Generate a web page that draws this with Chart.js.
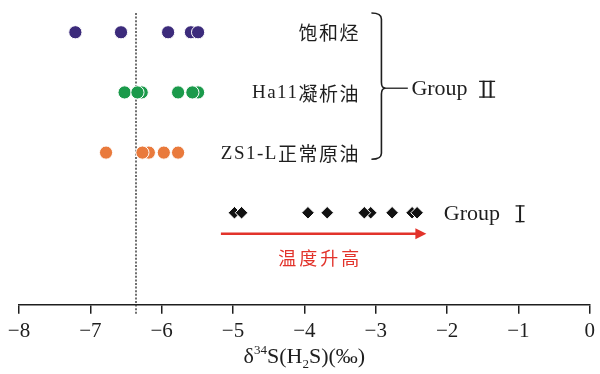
<!DOCTYPE html>
<html><head><meta charset="utf-8">
<script src="https://cdn.jsdelivr.net/npm/chart.js@4/dist/chart.umd.min.js"></script>
<style>html,body{margin:0;padding:0;background:#fff}#wrap{width:600px;height:374px;position:relative}</style>
</head><body><div id="wrap"><canvas id="c"></canvas></div>
<script>
// δ34S of H2S, per sample group
const xTicks = [-8, -7, -6, -5, -4, -3, -2, -1, 0];
const rowNames = ['饱和烃', 'Ha11凝析油', 'ZS1-L正常原油'];
const rowLevels = [4, 3, 2, 1];
const saturates = [-7.21, -6.57, -5.91, -5.59, -5.49];
const ha11Condensate = [-6.52, -6.28, -6.34, -5.77, -5.49, -5.57];
const zs1Crude = [-6.78, -6.18, -6.27, -5.97, -5.77];
const groupOne = [-4.98, -4.88, -3.95, -3.68, -3.07, -3.16, -2.77, -2.49, -2.42];
const refValue = -6.36;
const warmingArrow = [-5.17, -2.29];

const LATIN = '"Liberation Serif", "Times New Roman", serif';
const CJK = '"Noto Sans CJK SC", sans-serif';
const INK = '#1e1e1e';

const pts = (arr, lvl) => arr.map(v => ({x: v, y: lvl}));

const dotStyle = c => ({
  pointStyle: 'circle', pointRadius: 6.6, pointHoverRadius: 6.6,
  pointBackgroundColor: c, pointBorderColor: '#ffffff', pointBorderWidth: 1,
  showLine: false
});

// "Group" followed by a serif roman numeral drawn as bars
function groupLabel(ctx, left, mid, bars) {
  ctx.font = '22px ' + LATIN;
  ctx.textAlign = 'left';
  ctx.textBaseline = 'middle';
  ctx.fillText('Group', left, mid + 1);
  const start = left + ctx.measureText('Group').width + (bars === 1 ? 16 : 12);
  const h = 17, top = mid - h / 2 + 1;
  const gap = 7;
  for (let i = 0; i < bars; i++) {
    const cx = start + 4 + i * gap;
    ctx.fillRect(cx - 1, top, 2, h);
  }
  // serifs across the bars
  const w = (bars - 1) * gap + 9;
  ctx.fillRect(start - 0.5, top, w, 1.3);
  ctx.fillRect(start - 0.5, top + h - 1.3, w, 1.3);
}

const annotations = {
  id: 'annotations',
  afterDatasetsDraw(chart) {
    const {ctx, scales: {x, y}, chartArea} = chart;
    ctx.save();
    // row labels, right aligned
    ctx.fillStyle = INK;
    ctx.textBaseline = 'middle';
    const labelRight = x.getPixelForValue(-3.25) + 2;
    rowNames.forEach((name, i) => {
      const yy = y.getPixelForValue(rowLevels[i]);
      const runs = name.match(/[\u4e00-\u9fff]+|[^\u4e00-\u9fff]+/g);
      ctx.letterSpacing = '1.5px';
      const fonts = runs.map(r => /[\u4e00-\u9fff]/.test(r) ? '19px ' + CJK : '19px ' + LATIN);
      const widths = runs.map((r, k) => { ctx.font = fonts[k]; return ctx.measureText(r).width; });
      const total = widths.reduce((a, b) => a + b, 0);
      let cx = labelRight - total;
      ctx.textAlign = 'left';
      runs.forEach((r, k) => { ctx.font = fonts[k]; ctx.fillText(r, cx, yy + 1); cx += widths[k]; });
    });
    ctx.letterSpacing = '0px';

    // bracket grouping the three rows
    const bx = x.getPixelForValue(-2.92);
    const bTop = y.getPixelForValue(4.32);
    const bBot = y.getPixelForValue(1.89);
    const bMid = y.getPixelForValue(3.07);
    ctx.strokeStyle = INK;
    ctx.lineWidth = 1.6;
    ctx.beginPath();
    ctx.moveTo(bx - 10, bTop);
    ctx.quadraticCurveTo(bx, bTop, bx, bTop + 6);
    ctx.lineTo(bx, bMid - 6);
    ctx.quadraticCurveTo(bx, bMid, bx + 4, bMid);
    ctx.moveTo(bx + 4, bMid);
    ctx.quadraticCurveTo(bx, bMid, bx, bMid + 6);
    ctx.lineTo(bx, bBot - 6);
    ctx.quadraticCurveTo(bx, bBot, bx - 10, bBot);
    ctx.stroke();
    ctx.lineWidth = 1.3;
    ctx.beginPath();
    ctx.moveTo(bx + 2, bMid);
    ctx.lineTo(x.getPixelForValue(-2.55), bMid);
    ctx.stroke();

    groupLabel(ctx, x.getPixelForValue(-2.50), bMid, 2);
    groupLabel(ctx, x.getPixelForValue(-2.045), y.getPixelForValue(1), 1);

    // warming-direction arrow
    const ay = y.getPixelForValue(0.65);
    const ax0 = x.getPixelForValue(warmingArrow[0]);
    const ax1 = x.getPixelForValue(warmingArrow[1]);
    ctx.strokeStyle = '#e2332b';
    ctx.fillStyle = '#e2332b';
    ctx.lineWidth = 2.4;
    ctx.beginPath();
    ctx.moveTo(ax0, ay);
    ctx.lineTo(ax1 - 9, ay);
    ctx.stroke();
    ctx.beginPath();
    ctx.moveTo(ax1, ay);
    ctx.lineTo(ax1 - 11, ay - 5.5);
    ctx.lineTo(ax1 - 11, ay + 5.5);
    ctx.closePath();
    ctx.fill();
    ctx.font = '18px ' + CJK;
    ctx.letterSpacing = '3px';
    ctx.textAlign = 'center';
    ctx.textBaseline = 'middle';
    ctx.fillText('温度升高', x.getPixelForValue(-3.80) + 1.5, y.getPixelForValue(0.25));
    ctx.letterSpacing = '0px';

    // axis title with super/subscripts
    const parts = [
      {t: 'δ', s: 22, dy: 0},
      {t: '34', s: 13, dy: -9},
      {t: 'S(H', s: 22, dy: 0},
      {t: '2', s: 13, dy: 5},
      {t: 'S)(‰)', s: 22, dy: 0}
    ];
    ctx.fillStyle = INK;
    ctx.textAlign = 'left';
    ctx.textBaseline = 'alphabetic';
    let tw = 0;
    parts.forEach(p => { ctx.font = p.s + 'px ' + LATIN; p.w = ctx.measureText(p.t).width; tw += p.w; });
    let tx = (chartArea.left + chartArea.right) / 2 - tw / 2;
    const base = chartArea.bottom + 58;
    parts.forEach(p => { ctx.font = p.s + 'px ' + LATIN; ctx.fillText(p.t, tx, base + p.dy); tx += p.w; });
    ctx.restore();
  }
};

new Chart(document.getElementById('c'), {
  type: 'scatter',
  data: {
    datasets: [
      {label: rowNames[0], data: pts(saturates, rowLevels[0]), ...dotStyle('#3c2b7b'), order: 1},
      {label: rowNames[1], data: pts(ha11Condensate, rowLevels[1]), ...dotStyle('#1b9a4b'), order: 1},
      {label: rowNames[2], data: pts(zs1Crude, rowLevels[2]), ...dotStyle('#e97a3c'), order: 1},
      {label: 'Group I', data: pts(groupOne, rowLevels[3]), pointStyle: 'rectRot',
       pointRadius: 6.3, pointHoverRadius: 6.3, pointBackgroundColor: '#111111',
       pointBorderColor: '#ffffff', pointBorderWidth: 1, showLine: false, order: 1},
      {label: 'ref', data: [{x: refValue, y: 4.32}, {x: refValue, y: -0.7}],
       showLine: true, borderColor: '#333333', borderWidth: 1.4, borderDash: [2, 1.6],
       pointRadius: 0, clip: false, order: 5}
    ]
  },
  options: {
    responsive: true,
    maintainAspectRatio: false,
    animation: false,
    events: [],
    layout: {padding: {left: 19, right: 7, top: 2, bottom: 25}},
    plugins: {legend: {display: false}, tooltip: {enabled: false}},
    scales: {
      x: {
        type: 'linear', min: xTicks[0], max: xTicks[xTicks.length - 1],
        afterBuildTicks: s => { s.ticks = xTicks.map(v => ({value: v})); },
        ticks: {
          color: INK, font: {family: LATIN, size: 21}, padding: 5,
          callback: v => (v < 0 ? '\u2212' + Math.abs(v) : String(v))
        },
        grid: {drawOnChartArea: false, drawTicks: true, tickLength: 9, color: INK, lineWidth: 1.5},
        border: {display: true, color: INK, width: 1.6},
        title: {display: false}
      },
      y: {type: 'linear', min: -0.53, max: 4.41, display: false}
    }
  },
  plugins: [annotations]
});
</script>
</body></html>
